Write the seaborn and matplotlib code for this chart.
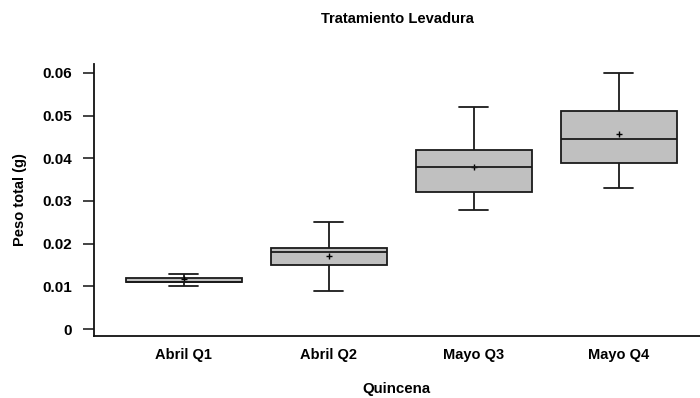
import numpy as np
import pandas as pd
import matplotlib
matplotlib.use("Agg")
import matplotlib.pyplot as plt
import seaborn as sns

# Summary statistics per fortnight (weight in grams)
categorias = ["Abril Q1", "Abril Q2", "Mayo Q3", "Mayo Q4"]
minimo = [0.010, 0.009, 0.028, 0.033]
cuartil_1 = [0.011, 0.015, 0.032, 0.039]
mediana = [0.011, 0.018, 0.038, 0.0445]
cuartil_3 = [0.012, 0.019, 0.042, 0.051]
maximo = [0.013, 0.025, 0.052, 0.060]
media = [0.0117, 0.0171, 0.038, 0.0456]

y_ticks = [0, 0.01, 0.02, 0.03, 0.04, 0.05, 0.06]
y_tick_labels = ["0", "0.01", "0.02", "0.03", "0.04", "0.05", "0.06"]

# Five-number table: with five sorted values the quartiles fall exactly on
# the 2nd and 4th entries, and whiskers spanning 0-100% reach min and max.
rows = []
for i, cat in enumerate(categorias):
    for v in (minimo[i], cuartil_1[i], mediana[i], cuartil_3[i], maximo[i]):
        rows.append({"Quincena": cat, "Peso": v})
df = pd.DataFrame(rows)
df_media = pd.DataFrame({"Quincena": categorias, "Media": media})

sns.set_style("white")
plt.rcParams["font.family"] = ["Liberation Sans", "DejaVu Sans"]
plt.rcParams["font.weight"] = "bold"
plt.rcParams["text.color"] = "black"
plt.rcParams["axes.labelcolor"] = "black"
plt.rcParams["xtick.color"] = "black"
plt.rcParams["ytick.color"] = "black"

fig = plt.figure(figsize=(7.0, 3.98), dpi=100)
ax = fig.add_axes([94 / 700, 62 / 398, 606 / 700, 272 / 398])

line_col = "#1a1a1a"
sns.boxplot(data=df, x="Quincena", y="Peso", order=categorias, ax=ax,
            whis=(0, 100), width=0.8, color="#c0c0c0", saturation=1,
            linecolor=line_col, linewidth=1.3, showfliers=False)

# Narrow the whisker caps
box_w = 0.8
cap_w = 0.2
for ln in ax.lines:
    xd = np.asarray(ln.get_xdata(), dtype=float)
    yd = np.asarray(ln.get_ydata(), dtype=float)
    if len(xd) == 2 and yd[0] == yd[1]:
        span = abs(xd[1] - xd[0])
        if 0 < span < box_w * 0.9:
            c = xd.mean()
            ln.set_xdata([c - cap_w / 2, c + cap_w / 2])

# Mean markers
sns.pointplot(data=df_media, x="Quincena", y="Media", order=categorias, ax=ax,
              linestyle="none", markers="+", color="black", errorbar=None,
              markersize=4, markeredgewidth=1.0)

ax.set_xlim(-0.62, 3.56)
ax.set_ylim(-0.00164, 0.0621)
ax.set_yticks(y_ticks)
ax.set_yticklabels(y_tick_labels)

for s in ("top", "right"):
    ax.spines[s].set_visible(False)
for s in ("left", "bottom"):
    ax.spines[s].set_color("#111111")
    ax.spines[s].set_linewidth(1.3)

ax.tick_params(axis="y", length=8, width=1.1, color="#111111", pad=8,
               labelsize=11, labelcolor="black", left=True)
ax.tick_params(axis="x", length=0, pad=9, labelsize=10.5, labelcolor="black")
for lab in ax.get_xticklabels() + ax.get_yticklabels():
    lab.set_fontweight("bold")

ax.set_xlabel("Quincena", fontsize=10.8, fontweight="bold", va="center",
              color="black")
ax.xaxis.set_label_coords(0.499, -0.195)
ax.set_ylabel("Peso total (g)", fontsize=10.5, fontweight="bold", va="center",
              color="black")
ax.yaxis.set_label_coords(-0.122, 0.5)

fig.text(397 / 700, 1 - 19 / 398, "Tratamiento Levadura", ha="center",
         va="center", fontsize=10.6, fontweight="bold", color="black")

fig.savefig("out.png", dpi=100)
